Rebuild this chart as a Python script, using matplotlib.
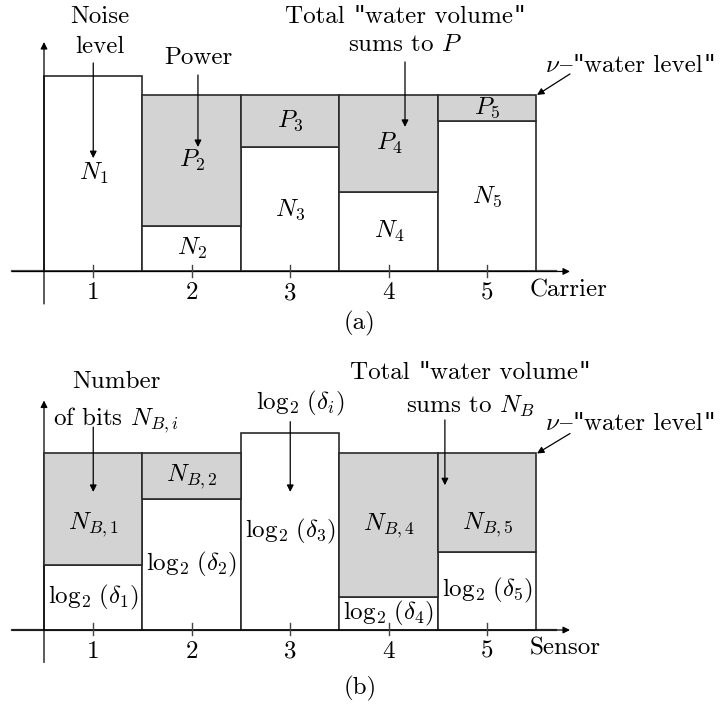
# DEPENDENCIES
# -----------------------------------------------------------------------------------------------
import matplotlib.pyplot as plt
from matplotlib.transforms import IdentityTransform

plt.rcParams['font.family'] = ['cmr10', 'DejaVu Serif']
plt.rcParams['mathtext.fontset'] = 'cm'
plt.rcParams['axes.formatter.use_mathtext'] = True

# DATA
# -----------------------------------------------------------------------------------------------
carriers = [1, 2, 3, 4, 5]
noise = [1.11, 0.26, 0.705, 0.45, 0.85]
power = [0.0, 0.74, 0.295, 0.55, 0.15]
noise_labels = [r'$N_1$', r'$N_2$', r'$N_3$', r'$N_4$', r'$N_5$']
power_labels = ['', r'$P_2$', r'$P_3$', r'$P_4$', r'$P_5$']

sensors = [1, 2, 3, 4, 5]
log_delta = [0.37, 0.74, 1.115, 0.185, 0.443]
bits = [0.63, 0.26, 0.0, 0.815, 0.557]
delta_labels = [r'$\log_2\,(\delta_%d)$' % i for i in sensors]
bits_labels = [r'$N_{B,%d}$' % i for i in sensors]

water_level = 1.0
FS = 18
EDGE = '#2a2a2a'
SHADE = '#d3d3d3'

# cmr10 has curly quotes only, so the straight ones come from DejaVu Serif;
# '{' is the en dash slot in cmr10
CM = 'cmr10'
QF = 'DejaVu Serif'
TOTAL = [('Total ', CM), ('"', QF), ('water volume', CM), ('"', QF)]
LEVEL = [(r'$\nu$', CM), ('{', CM), ('"', QF), ('water level', CM), ('"', QF)]

# AUX METHODS
# -----------------------------------------------------------------------------------------------

def arrow(ax, start, end):
    ax.annotate('', xy=end, xytext=start,
                arrowprops=dict(arrowstyle='-|>', color='black', lw=0.9,
                                mutation_scale=10, shrinkA=0, shrinkB=0))

def mixedText(fig, ax, x, y, pieces):
    # lay out the pieces side by side, centred on (x, y) with a shared baseline
    renderer = fig.canvas.get_renderer()
    texts = [ax.text(0, 0, s, family=f, fontsize=FS, ha='left', va='baseline') for s, f in pieces]
    widths = [t.get_window_extent(renderer).width for t in texts]
    x0, y0 = ax.transData.transform((x, y))
    cur = x0 - sum(widths) / 2
    for t, w in zip(texts, widths):
        t.set_transform(IdentityTransform())
        t.set_position((cur, y0))
        cur += w

def drawAxes(ax, ylim, xlabel, ticks):
    ax.set_xlim(0.0533, 7.363)
    ax.set_ylim(*ylim)
    ax.axis('off')
    arrow(ax, (0.175, 0), (5.84, 0))
    ax.plot([0.175, 5.7], [0, 0], color='#555555', lw=1.6)
    arrow(ax, (0.5, -0.184), (0.5, 1.3))
    for t in ticks:
        ax.plot([t, t], [-0.031, 0.037], color='#444444', lw=1.0, zorder=4)
        ax.text(t, -0.122, str(t), ha='center', va='center', fontsize=FS)
    ax.text(5.43, -0.105, xlabel, ha='left', va='center', fontsize=FS)

def drawBars(ax, x, lower, upper, lower_labels, upper_labels, upper_y=None):
    ax.bar(x, lower, width=1, color='white', edgecolor=EDGE, lw=1.2, zorder=2)
    for i, (xi, lo, up) in enumerate(zip(x, lower, upper)):
        ax.text(xi, lo / 2, lower_labels[i], ha='center', va='center', fontsize=FS, zorder=5)
        if up <= 0:
            continue
        ax.bar(xi, up, bottom=lo, width=1, color=SHADE, edgecolor=EDGE, lw=1.2, zorder=3)
        y = lo + up / 2
        if upper_y is not None and upper_y[i] is not None:
            y = upper_y[i]
        ax.text(xi, y, upper_labels[i], ha='center', va='center', fontsize=FS, zorder=5)

# MAIN
# -----------------------------------------------------------------------------------------------

fig = plt.figure(figsize=(7.2, 7.07), dpi=100)
ax_a = fig.add_axes([0, 357 / 707, 1, 350 / 707])
ax_b = fig.add_axes([0, 0, 1, 357 / 707])

# (a) carriers
drawAxes(ax_a, (-0.445, 1.538), 'Carrier', carriers)
drawBars(ax_a, carriers, noise, power, noise_labels, power_labels)
ax_a.text(1.069, 1.408, 'Noise', ha='center', va='baseline', fontsize=FS)
ax_a.text(1.069, 1.238, 'level', ha='center', va='baseline', fontsize=FS)
arrow(ax_a, (1.0, 1.181), (1.0, 0.642))
ax_a.text(2.063, 1.178, 'Power', ha='center', va='baseline', fontsize=FS)
arrow(ax_a, (2.063, 1.113), (2.063, 0.705))
mixedText(fig, ax_a, 4.165, 1.408, TOTAL)
ax_a.text(4.165, 1.25, r'sums to $P$', ha='center', va='baseline', fontsize=FS)
arrow(ax_a, (4.165, 1.187), (4.165, 0.819))
mixedText(fig, ax_a, 6.449, 1.13, LEVEL)
arrow(ax_a, (5.84, 1.119), (5.505, water_level))
ax_a.text(3.708, -0.297, '(a)', ha='center', va='center', fontsize=FS)

# (b) sensors
drawAxes(ax_b, (-0.436, 1.586), 'Sensor', sensors)
drawBars(ax_b, sensors, log_delta, bits, delta_labels, bits_labels,
         upper_y=[0.595, None, None, None, 0.595])
ax_b.text(1.231, 1.371, 'Number', ha='center', va='baseline', fontsize=FS)
ax_b.text(1.231, 1.161, r'of bits $N_{B,i}$', ha='center', va='baseline', fontsize=FS)
arrow(ax_b, (1.0, 1.149), (1.0, 0.782))
ax_b.text(3.1, 1.25, r'$\log_2\,(\delta_i)$', ha='center', va='baseline', fontsize=FS)
arrow(ax_b, (3.0, 1.18), (3.0, 0.782))
mixedText(fig, ax_b, 4.825, 1.42, TOTAL)
ax_b.text(4.825, 1.23, r'sums to $N_B$', ha='center', va='baseline', fontsize=FS)
arrow(ax_b, (4.57, 1.19), (4.57, 0.82))
mixedText(fig, ax_b, 6.449, 1.133, LEVEL)
arrow(ax_b, (5.84, 1.113), (5.505, water_level))
ax_b.text(3.708, -0.329, '(b)', ha='center', va='center', fontsize=FS)

fig.savefig('out.png', dpi=100)
